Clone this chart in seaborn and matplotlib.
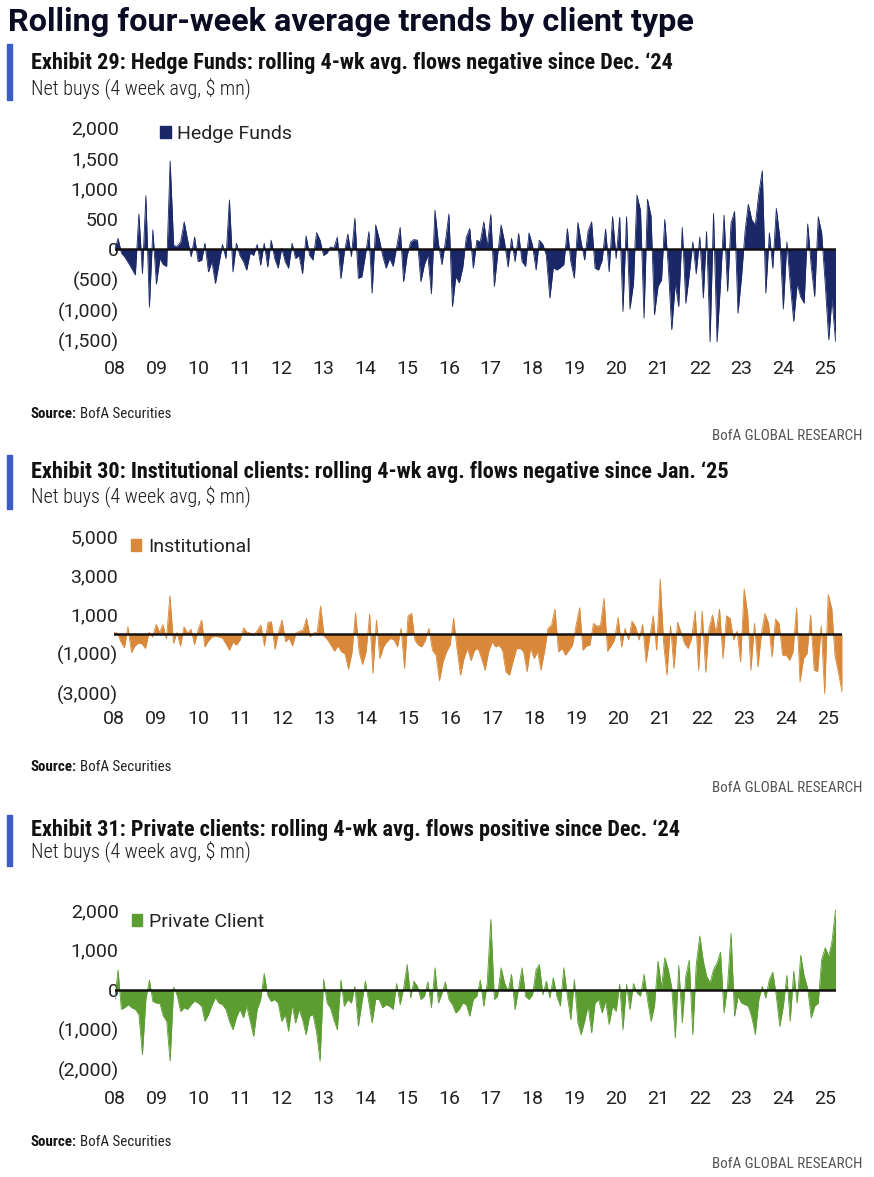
import matplotlib
matplotlib.use('Agg')
import matplotlib.pyplot as plt
from matplotlib.patches import Patch, Rectangle
from matplotlib.ticker import FuncFormatter
from matplotlib import font_manager
import pandas as pd
import seaborn as sns

# monthly readings, Jan 2008 onwards ($ mn, 4 week avg)
hedge_funds = [
    -30, 180, -60, -130, -220, -320, -420, 580, -400, 880,
    -950, 320, -570, -150, -250, -280, 1450, 60, 50, 120,
    450, 150, -120, 200, -200, -180, 100, -370, -200, -560,
    -250, 80, -150, 810, -370, 100, -100, -200, -340, -60,
    -100, 80, -260, 100, -290, 150, -150, -310, 20, -200,
    -310, 100, -150, -100, -400, 220, -100, -175, 275, 150,
    -100, -60, 40, 20, 200, -480, -50, 250, -120, 510,
    -475, -450, -100, 290, -720, 400, 180, -100, -310, -150,
    -280, 30, 360, -530, -100, 120, 160, 150, -530, -250,
    -100, -730, 640, 100, -250, 120, 580, -940, -450, -550,
    -300, 200, 340, -310, 150, 120, 450, 50, 570, -610,
    -100, 400, 120, -290, 180, -200, 260, -200, -280, 270,
    60, -340, 150, 80, -100, -800, -300, -340, -300, -250,
    340, -200, -475, 440, 120, -175, 300, 450, -310, -340,
    -175, 330, -370, 535, -150, 525, -1020, 535, -980, -560,
    890, 640, -1130, 820, 550, -1075, -610, -500, 490, -280,
    -1320, -560, -940, 360, -885, -420, 120, -400, 200, -800,
    290, -1520, 590, -1520, -560, 560, -690, 430, 620, -1050,
    -450, 300, 740, 480, 400, 920, 1290, -720, 270, -310,
    670, 200, -980, 120, -560, -1185, -560, -780, -885, 415,
    -280, -775, 535, 270, -560, -1485, -800, -1510,
]

institutional = [
    80, 50, -390, -700, 375, -935, -600, -450, -500, -730,
    100, -150, 490, 100, 490, -250, 1950, -470, 80, -610,
    375, 50, 250, -530, 200, 715, -650, -350, -150, -100,
    -150, -200, -500, -815, -400, -560, -300, 320, 100, 50,
    -80, 200, 460, -600, 600, 630, -780, 100, 715, -390,
    -200, -600, 50, 150, 200, 800, -150, 50, 100, 1430,
    -100, -300, -560, -870, -600, -900, -1000, -1785, -900, 1090,
    -900, -1550, -900, 1020, -2000, 715, -1240, -650, -390, -220,
    -300, -650, 290, -1750, 935, 1050, -300, -560, -650, -300,
    290, -820, -1070, -2380, -1410, -900, -560, 800, -730, -2090,
    -1240, -730, -1350, -820, -730, -1240, -1840, -900, -400, -650,
    -560, -820, -1920, -2090, -1400, -750, -730, -900, -1920, -700,
    -1240, -900, -1840, -900, 290, 460, 1275, -900, -730, -1070,
    -820, -560, 460, 1340, -820, -600, -560, 545, 400, 450,
    1820, -870, -600, -300, 850, -650, 290, -300, 660, 375,
    -300, 490, -1445, -200, 935, -820, 2800, -560, -2090, 425,
    -1750, 600, 100, -470, -730, -220, 1170, -1840, 1170, -1955,
    290, 970, 50, 1275, -1240, 935, 800, -300, 150, -1410,
    2300, 1000, -1840, 545, -1670, 50, 1050, 545, -1160, 765,
    545, -1070, -1070, -1330, -900, 1340, -2430, -1240, -990, 970,
    -1840, -1900, 425, -3030, 2020, 1300, -1100, -2000, -2940,
]

private_client = [
    -295, 490, -500, -450, -380, -460, -500, -630, -1640, -250,
    235, -300, -340, -350, -655, -800, -1800, 60, -150, -550,
    -460, -500, -380, -290, -340, -420, -800, -630, -400, -200,
    -340, -380, -500, -800, -1010, -700, -500, -710, -420, -800,
    -1175, -500, -250, 400, -150, -300, -250, -340, -800, -630,
    -1050, -380, -840, -500, -760, -1135, -670, -630, -1090, -1800,
    250, -340, -460, -760, -1010, 235, -420, -250, -340, 80,
    -925, -340, 210, -340, -840, -250, -250, -460, -380, -420,
    -500, 150, -380, 30, 630, -210, 210, 80, -250, -170,
    190, -460, 545, -340, -100, 190, -250, -380, -590, -500,
    -340, -380, -670, -250, -170, 235, -420, 170, 1765, -250,
    -170, 545, 170, -50, 380, -505, 30, 545, -170, -250,
    -130, 500, 630, -130, 210, -210, 295, -170, -420, 545,
    -170, -755, 250, -840, -1135, -800, -400, -1090, -340, -250,
    -590, -290, -880, -420, -545, 130, -1010, 130, -505, 150,
    -80, -170, 380, -250, -800, -420, 715, 50, 800, 500,
    50, -1220, 605, -840, 340, 740, -1135, 630, 1345, 715,
    340, 170, 500, 670, 940, -590, 100, 1410, -670, -170,
    -340, -380, -420, -700, -1135, -250, 80, -210, 250, 435,
    -170, -925, -420, 355, -800, 460, -340, 860, 340, 30,
    -715, -420, -340, 755, 1050, 840, 1200, 2000,
]

year_labels = ['08', '09', '10', '11', '12', '13', '14', '15', '16',
               '17', '18', '19', '20', '21', '22', '23', '24', '25']

sns.set_theme(style='white')
installed = {f.name for f in font_manager.fontManager.ttflist}
BASE = 'Roboto' if 'Roboto' in installed else 'DejaVu Sans'
COND = next((f for f in ['Roboto Condensed', 'Liberation Sans Narrow']
             if f in installed), BASE)
plt.rcParams['font.family'] = [BASE, 'DejaVu Sans']

W, H = 874, 1177
fig = plt.figure(figsize=(W / 100, H / 100), dpi=100)


def fx(x):
    return x / W


def fy(y):
    return 1 - y / H


def money(v, pos):
    if v < 0:
        return f'({abs(v):,.0f})'
    return f'{v:,.0f}'


panels = [
    dict(values=hedge_funds, name='Hedge Funds', color='#1b2868',
         box=(114.5, 124.5, 835.5, 344.3), ylim=(-1560, 2050),
         yticks=[-1500, -1000, -500, 0, 500, 1000, 1500, 2000],
         legend=(0.063, 0.957), bar=(44, 100), title_y=63, sub_y=88,
         src_y=414, brand_y=436,
         title='Exhibit 29: Hedge Funds: rolling 4-wk avg. flows negative since Dec. \u201824'),
    dict(values=institutional, name='Institutional', color='#d9883a',
         box=(114, 530, 842, 695), ylim=(-3100, 5300),
         yticks=[-3000, -1000, 1000, 3000, 5000],
         legend=(0.023, 0.897), bar=(455, 509), title_y=472, sub_y=496,
         src_y=767, brand_y=788,
         title='Exhibit 30: Institutional clients: rolling 4-wk avg. flows negative since Jan. \u201825'),
    dict(values=private_client, name='Private Client', color='#5c9d32',
         box=(114.5, 906, 835.5, 1075), ylim=(-2150, 2100),
         yticks=[-2000, -1000, 0, 1000, 2000],
         legend=(0.024, 0.905), bar=(815, 866), title_y=830, sub_y=851,
         src_y=1142, brand_y=1164,
         title='Exhibit 31: Private clients: rolling 4-wk avg. flows positive since Dec. \u201824'),
]

fig.text(fx(8), fy(22), 'Rolling four-week average trends by client type',
         fontsize=23.3, weight='bold', va='center', color='#0b0b23')

year_dates = pd.to_datetime([f'20{y}-01-01' for y in year_labels])

for p in panels:
    l, t, r, b = p['box']
    ax = fig.add_axes([fx(l), fy(b), (r - l) / W, (b - t) / H])
    dates = pd.date_range('2008-01-01', periods=len(p['values']), freq='MS')
    df = pd.DataFrame({'date': dates, 'value': p['values']})

    ax.fill_between(df['date'], df['value'], 0, color=p['color'], lw=0)
    sns.lineplot(data=df, x='date', y='value', ax=ax, color=p['color'], lw=0.6)
    ax.axhline(0, color='#111111', lw=1.8)

    ax.set_xlim(dates[0], dates[-1])
    ax.set_ylim(*p['ylim'])
    ax.set_yticks(p['yticks'])
    ax.yaxis.set_major_formatter(FuncFormatter(money))
    ax.set_xticks(year_dates)
    ax.set_xticklabels(year_labels)
    ax.set_xlabel('')
    ax.set_ylabel('')
    sns.despine(ax=ax, left=True, bottom=True)
    ax.tick_params(length=0, labelsize=14, colors='#222222')
    ax.tick_params(axis='y', pad=-3)
    ax.tick_params(axis='x', pad=11)

    ax.legend(handles=[Patch(color=p['color'], label=p['name'])],
              loc='center left', bbox_to_anchor=p['legend'], frameon=False,
              handlelength=0.55, handleheight=0.55, handletextpad=0.35,
              borderpad=0, borderaxespad=0, fontsize=14, labelcolor='#222222')

    # header: blue marker bar, exhibit title, units line
    top, bottom = p['bar']
    fig.patches.append(Rectangle((fx(7), fy(bottom)), 5 / W, (bottom - top) / H,
                                 transform=fig.transFigure, color='#3b5bc6'))
    fig.text(fx(31), fy(p['title_y']), p['title'], fontsize=16, weight='bold',
             family=COND, va='center', color='#111111')
    fig.text(fx(31), fy(p['sub_y']), 'Net buys (4 week avg, $ mn)', fontsize=14.5,
             weight='light', family=COND, va='center', color='#1a1a1a')

    # footer
    src = fig.text(fx(31), fy(p['src_y']), 'Source:', fontsize=10.8, weight='bold',
                   family=COND, va='center', color='#111111')
    ax.annotate('BofA Securities', xy=(1, 0.5), xycoords=src, xytext=(2, 0),
                textcoords='offset points', va='center', fontsize=10.8,
                family=COND, color='#222222', annotation_clip=False)
    fig.text(fx(862), fy(p['brand_y']), 'BofA GLOBAL RESEARCH', fontsize=10.9,
             family=COND, ha='right', va='center', color='#555555')

fig.savefig('out.png', dpi=100)
